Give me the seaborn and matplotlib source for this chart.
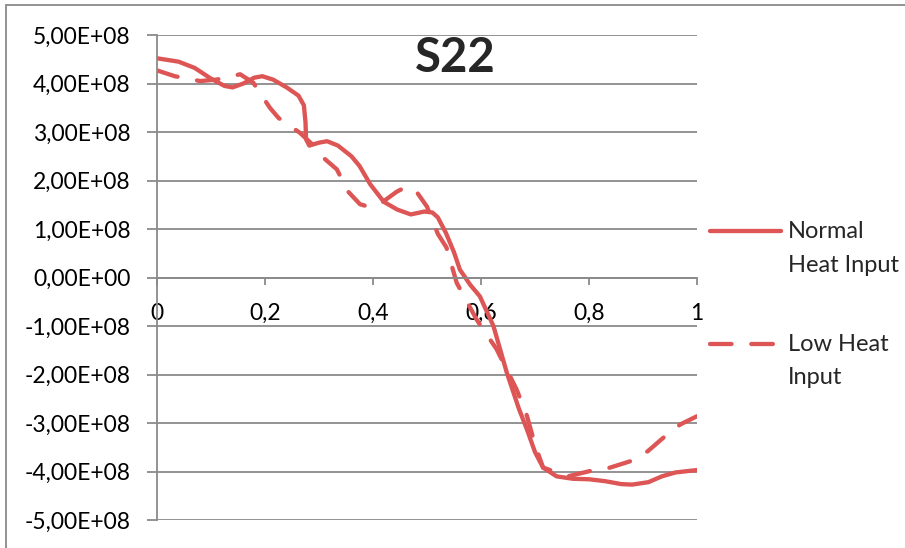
import numpy as np
import pandas as pd
import matplotlib
matplotlib.use("Agg")
import matplotlib.pyplot as plt
from matplotlib.ticker import FuncFormatter, MultipleLocator
from matplotlib.patches import Rectangle
import seaborn as sns

# S22 stress along the normalised path (values in units of 1E+08)
normal_x = [0.00, 0.04, 0.07, 0.10, 0.125, 0.14, 0.16, 0.18, 0.195, 0.215,
            0.24, 0.262, 0.272, 0.275, 0.276, 0.282, 0.30, 0.315, 0.335, 0.36,
            0.375, 0.395, 0.42, 0.445, 0.47, 0.495, 0.51, 0.52, 0.535, 0.55,
            0.561, 0.58, 0.598, 0.623, 0.648, 0.67, 0.685, 0.70, 0.715, 0.74,
            0.77, 0.80, 0.83, 0.86, 0.88, 0.91, 0.935, 0.96, 1.00]
normal_v = [4.52, 4.45, 4.32, 4.10, 3.95, 3.92, 4.00, 4.12, 4.15, 4.08,
            3.92, 3.75, 3.55, 3.20, 2.85, 2.72, 2.78, 2.81, 2.72, 2.50,
            2.30, 1.92, 1.56, 1.40, 1.30, 1.36, 1.34, 1.24, 0.92, 0.52,
            0.16, -0.15, -0.39, -1.00, -1.97, -2.70, -3.13, -3.60, -3.92, -4.10,
            -4.15, -4.16, -4.20, -4.26, -4.27, -4.22, -4.10, -4.02, -3.97]

low_x = [0.00, 0.033, 0.08, 0.11, 0.154, 0.178, 0.209, 0.225, 0.265, 0.29,
         0.308, 0.333, 0.354, 0.376, 0.395, 0.417, 0.444, 0.46, 0.478, 0.50,
         0.52, 0.536, 0.555, 0.592, 0.629, 0.666, 0.685, 0.70, 0.715, 0.761,
         0.802, 0.839, 0.876, 0.909, 0.937, 0.969, 1.00]
low_v = [4.27, 4.15, 4.05, 4.08, 4.19, 4.02, 3.50, 3.29, 2.98, 2.72,
         2.47, 2.23, 1.77, 1.51, 1.45, 1.55, 1.77, 1.86, 1.81, 1.46,
         0.90, 0.62, -0.11, -0.87, -1.48, -2.31, -2.85, -3.45, -3.92, -4.10,
         -3.99, -3.92, -3.79, -3.58, -3.31, -3.03, -2.86]

SCALE = 1e8
series_labels = ["Normal\nHeat Input", "Low Heat\nInput"]
x_ticks = [0, 0.2, 0.4, 0.6, 0.8, 1.0]

df = pd.concat([
    pd.DataFrame({"x": normal_x, "S22": np.array(normal_v) * SCALE, "series": series_labels[0]}),
    pd.DataFrame({"x": low_x, "S22": np.array(low_v) * SCALE, "series": series_labels[1]}),
], ignore_index=True)

sns.set_style("white")
plt.rcParams["font.family"] = ["Lato", "DejaVu Sans"]

RED = "#DD5555"
GRID = "#8A8A8A"
LW = 3.1
DASH = (5.0, 4.6)

fig = plt.figure(figsize=(9.05, 5.48), dpi=100)
ax = fig.add_axes([157 / 905, 1 - 520 / 548, 540 / 905, 485 / 548])

sns.lineplot(data=df, x="x", y="S22", hue="series", style="series",
             palette={series_labels[0]: RED, series_labels[1]: RED},
             dashes={series_labels[0]: "", series_labels[1]: DASH},
             sort=False, estimator=None, linewidth=LW, ax=ax, legend=False)
for ln in ax.lines:
    ln.set_solid_capstyle("round")
    ln.set_dash_capstyle("round")
    ln.set_solid_joinstyle("round")
    ln.set_dash_joinstyle("round")

ax.set_xlim(0, 1)
ax.set_ylim(-5e8, 5e8)
ax.yaxis.set_major_locator(MultipleLocator(1e8))
ax.set_xticks(x_ticks)
ax.xaxis.set_major_formatter(FuncFormatter(lambda v, p: f"{v:g}".replace(".", ",")))


def sci_comma(v, p):
    s = f"{v:.2E}"
    return s.replace(".", ",")


ax.yaxis.set_major_formatter(FuncFormatter(sci_comma))
ax.set_xlabel("")
ax.set_ylabel("")

ax.grid(axis="y", color=GRID, linewidth=1.3)
ax.grid(axis="x", visible=False)
ax.set_axisbelow(True)
for s in ("top", "right"):
    ax.spines[s].set_visible(False)
ax.spines["bottom"].set_position(("data", 0))
for s in ("left", "bottom"):
    ax.spines[s].set_color(GRID)
    ax.spines[s].set_linewidth(1.3)

ax.tick_params(axis="y", direction="out", length=7, width=1.3, color=GRID,
               pad=12, labelsize=16.5, labelcolor="black", left=True)
ax.tick_params(axis="x", direction="out", length=5, width=1.3, color=GRID,
               pad=13, labelsize=16.5, labelcolor="black", bottom=True)

ax.text(0.552, 0.953, "S22", transform=ax.transAxes, ha="center", va="center",
        fontsize=34, fontweight="bold")

handles = [
    plt.Line2D([], [], color=RED, lw=LW, solid_capstyle="round"),
    plt.Line2D([], [], color=RED, lw=LW, dashes=DASH, dash_capstyle="round"),
]
leg = fig.legend(handles, series_labels, loc="upper left",
                 bbox_to_anchor=(710 / 905, 1 - 221 / 548), frameon=False,
                 fontsize=17, handlelength=3.0, handletextpad=0.3,
                 labelspacing=2.45, borderpad=0, borderaxespad=0)
for t in leg.get_texts():
    t.set_linespacing(1.75)
# put each legend line beside the first line of its label
for h in leg.legend_handles:
    h.set_ydata(np.asarray(h.get_ydata()) + 12.5)

# chart border
fig.patches.append(Rectangle((6 / 905, -0.1), 1.2, 1.1 - 5 / 548, transform=fig.transFigure,
                             fill=False, edgecolor=GRID, linewidth=1.3))

fig.savefig("out.png", dpi=100)
